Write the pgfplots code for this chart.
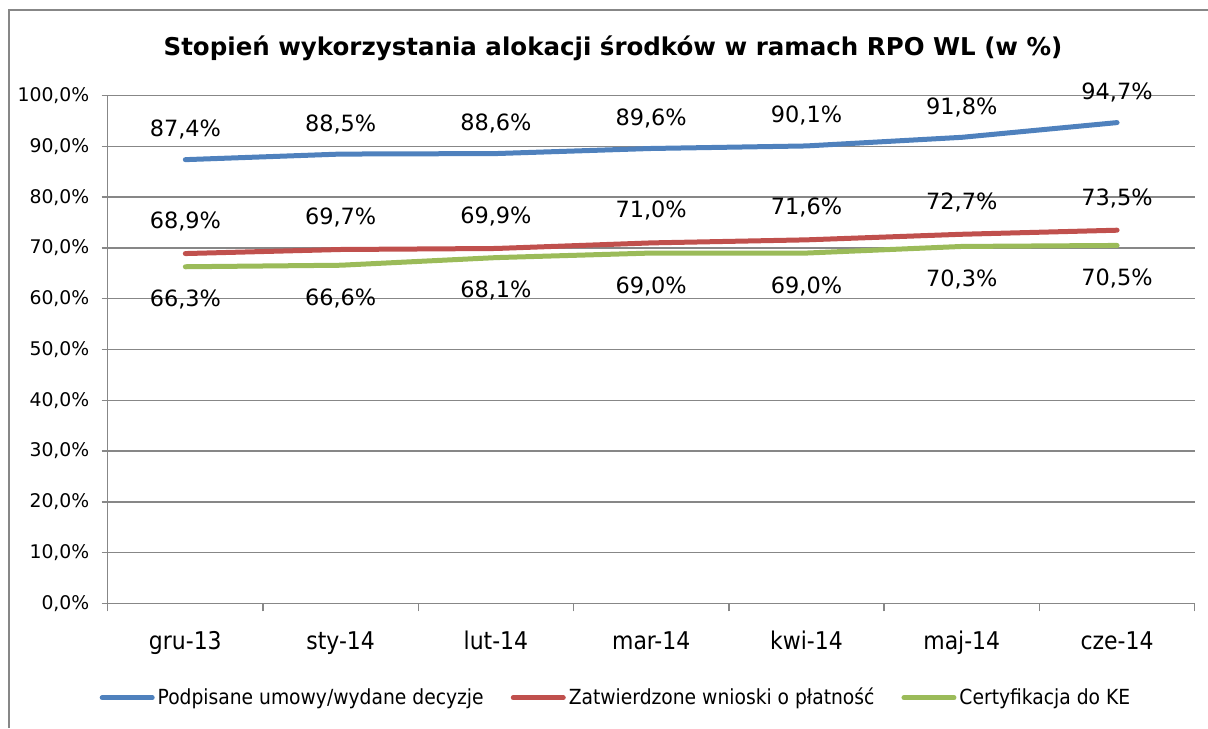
\documentclass[border=0pt]{standalone}
\usepackage{fontspec}
\setmainfont{DejaVu Sans}
\newfontfamily\condfont{DejaVu Sans Condensed}
\usepackage{pgfplots}
\pgfplotsset{compat=1.18}
\definecolor{cblue}{HTML}{4F81BD}
\definecolor{cred}{HTML}{C0504D}
\definecolor{cgreen}{HTML}{9BBB59}
\definecolor{cgrid}{HTML}{878787}
\begin{document}
\begin{tikzpicture}[x=1pt,y=1pt]
\path[use as bounding box] (0,0) rectangle (604,364);
\draw[cgrid, line width=1pt] (4.35,0) -- (4.35,359) -- (604,359);
\node[font=\bfseries\fontsize{12.25}{14}\selectfont] at (306.5,340) {Stopień wykorzystania alokacji środków w ramach RPO WL (w \%)};
\begin{axis}[
  at={(53.85pt,62.35pt)}, anchor=south west,
  scale only axis, width=543.5pt, height=253.8pt,
  xmin=-0.5, xmax=6.5, ymin=0, ymax=100,
  axis lines*=left,
  axis line style={cgrid, line width=0.75pt},
  /pgf/number format/assume math mode=true,
  xtick={0,...,6},
  xticklabels={gru-13,sty-14,lut-14,mar-14,kwi-14,maj-14,cze-14},
  major x tick style={draw=none},
  minor xtick={-0.5,0.5,1.5,2.5,3.5,4.5,5.5,6.5},
  minor tick length=4pt,
  major tick length=3pt,
  tick align=outside,
  tick style={cgrid, line width=0.75pt},
  ytick={0,10,...,100},
  yticklabel={\pgfmathprintnumber[fixed,fixed zerofill,precision=1,use comma]{\tick}\%},
  yticklabel style={font=\fontsize{9.4}{11}\selectfont, inner sep=1pt, xshift=-5pt},
  xticklabel style={font=\condfont\fontsize{12.2}{14}\selectfont, yshift=-7.5pt},
  ymajorgrids, grid style={cgrid, line width=0.75pt},
  legend style={at={(0.468,-0.186)}, anchor=center, draw=none, fill=none,
    legend columns=3, font=\condfont\fontsize{10.4}{12}\selectfont,
    /tikz/every even column/.append style={column sep=12pt},
    nodes={inner sep=1.5pt}},
  legend cell align=left,
  legend image code/.code={\draw[#1, line width=2.5pt, line cap=round] (0pt,0pt) -- (25pt,0pt);},
  point meta=y,
  nodes near coords={\pgfmathprintnumber[fixed,fixed zerofill,precision=1,use comma]{\pgfplotspointmeta}\%},
  every node near coord/.append style={font=\fontsize{11.2}{13}\selectfont, anchor=center, text=black},
]
\addplot[cblue, line width=2.5pt, line cap=round, line join=round, every node near coord/.append style={yshift=15pt}] coordinates {(0,87.4) (1,88.5) (2,88.6) (3,89.6) (4,90.1) (5,91.8) (6,94.7)};
\addlegendentry{Podpisane umowy/wydane decyzje}
\addplot[cred, line width=2.5pt, line cap=round, line join=round, every node near coord/.append style={yshift=16pt}] coordinates {(0,68.9) (1,69.7) (2,69.9) (3,71.0) (4,71.6) (5,72.7) (6,73.5)};
\addlegendentry{Zatwierdzone wnioski o płatność}
\addplot[cgreen, line width=2.5pt, line cap=round, line join=round, every node near coord/.append style={yshift=-16.5pt}] coordinates {(0,66.3) (1,66.6) (2,68.1) (3,69.0) (4,69.0) (5,70.3) (6,70.5)};
\addlegendentry{Certyfikacja do KE}
\end{axis}
\end{tikzpicture}
\end{document}
